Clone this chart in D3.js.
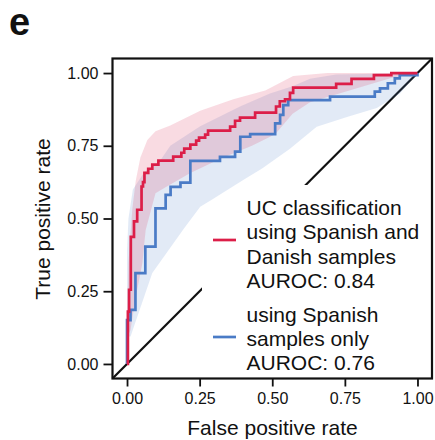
<!DOCTYPE html>
<html>
<head>
<meta charset="utf-8">
<script src="https://cdn.jsdelivr.net/npm/d3@7"></script>
<style>
  html, body { margin: 0; padding: 0; background: #fff; }
  svg { display: block; }
  text { font-family: "Liberation Sans", Arial, Helvetica, sans-serif; fill: #111; }
</style>
</head>
<body>
<svg id="chart" width="435" height="440"></svg>
<script>
// ---- data ----
const xTicks = [0, 0.25, 0.5, 0.75, 1];
const yTicks = [0, 0.25, 0.5, 0.75, 1];

// ROC of model trained with Spanish + Danish samples (step points: fpr, tpr)
const rocBothFpr = [0, 0.003, 0.007, 0.013, 0.024, 0.035, 0.05, 0.055, 0.06, 0.073, 0.087, 0.108, 0.159, 0.187, 0.197, 0.218, 0.238, 0.248, 0.269, 0.279, 0.355, 0.372, 0.389, 0.441, 0.513, 0.526, 0.544, 0.561, 0.572, 0.72, 0.773, 0.85, 0.91, 1.0];
const rocBothTpr = [0, 0.18, 0.255, 0.437, 0.49, 0.53, 0.61, 0.625, 0.657, 0.671, 0.685, 0.699, 0.713, 0.726, 0.74, 0.754, 0.768, 0.778, 0.788, 0.802, 0.816, 0.836, 0.847, 0.864, 0.885, 0.903, 0.91, 0.932, 0.95, 0.963, 0.98, 0.993, 1.0, 1.0];

// ROC of model trained with Spanish samples only
const rocSpainFpr = [0, 0, 0.012, 0.029, 0.063, 0.098, 0.133, 0.15, 0.184, 0.218, 0.32, 0.372, 0.39, 0.424, 0.51, 0.527, 0.538, 0.555, 0.699, 0.853, 0.871, 0.898, 0.922, 0.939, 1.0];
const rocSpainTpr = [0, 0.151, 0.186, 0.312, 0.403, 0.535, 0.581, 0.609, 0.623, 0.698, 0.712, 0.73, 0.781, 0.79, 0.827, 0.856, 0.89, 0.907, 0.919, 0.936, 0.947, 0.965, 0.982, 0.993, 1.0];

// confidence bands [fpr, tpr]
const bandBothUpper = [[0,0.12],[0.005,0.35],[0.013,0.46],[0.018,0.53],[0.03,0.63],[0.046,0.71],[0.07,0.77],[0.098,0.80],[0.149,0.82],[0.252,0.87],[0.366,0.91],[0.476,0.94],[0.572,0.99],[0.69,1.0],[1,1]];
const bandBothLower = [[0,0.09],[0.012,0.117],[0.03,0.23],[0.053,0.347],[0.064,0.46],[0.098,0.587],[0.137,0.61],[0.218,0.656],[0.321,0.705],[0.43,0.75],[0.51,0.79],[0.57,0.86],[0.63,0.9],[0.8,0.95],[0.915,0.985],[1,1]];
const bandSpainUpper = [[0,0.39],[0.005,0.5],[0.02,0.6],[0.06,0.66],[0.115,0.70],[0.149,0.75],[0.252,0.817],[0.389,0.885],[0.492,0.93],[0.57,0.955],[0.63,0.98],[0.72,0.995],[1,1]];
const bandSpainLower = [[0,0.094],[0.012,0.094],[0.087,0.313],[0.196,0.466],[0.252,0.54],[0.293,0.565],[0.4,0.632],[0.465,0.672],[0.561,0.74],[0.653,0.815],[0.76,0.85],[0.86,0.88],[0.94,0.93],[1,1]];

const legendBoth = ["UC classification", "using Spanish and", "Danish samples", "AUROC: 0.84"];
const legendSpain = ["using Spanish", "samples only", "AUROC: 0.76"];

// ---- drawing ----
const RED = "#dc1e48", BLUE = "#4a7bc6";
const svg = d3.select("#chart");
const x = d3.scaleLinear().domain([-0.05, 1.05]).range([112.5, 432]);
const y = d3.scaleLinear().domain([-0.05, 1.05]).range([378.5, 58.5]);

// chance diagonal
svg.append("line")
  .attr("x1", x(x.domain()[0])).attr("y1", y(y.domain()[0]))
  .attr("x2", x(x.domain()[1])).attr("y2", y(y.domain()[1]))
  .attr("stroke", "#111").attr("stroke-width", 2.2);

// legend background
svg.append("rect").attr("x", 202).attr("y", 185).attr("width", 229).attr("height", 192).attr("fill", "#fff");

const polyLine = d3.line().x(d => x(d[0])).y(d => y(d[1]));
function band(upper, lower, color) {
  const pts = lower.concat(upper.slice().reverse());
  svg.append("path").attr("d", polyLine(pts) + "Z").attr("fill", color).attr("fill-opacity", 0.16).attr("stroke", "none");
}
band(bandSpainUpper, bandSpainLower, BLUE);
band(bandBothUpper, bandBothLower, RED);

const step = d3.line().x(d => x(d[0])).y(d => y(d[1])).curve(d3.curveStepAfter);
svg.append("path").datum(rocSpainFpr.map((f, i) => [f, rocSpainTpr[i]]))
  .attr("d", step).attr("fill", "none").attr("stroke", BLUE).attr("stroke-width", 2.7);
svg.append("path").datum(rocBothFpr.map((f, i) => [f, rocBothTpr[i]]))
  .attr("d", step).attr("fill", "none").attr("stroke", RED).attr("stroke-width", 2.7);

// panel border
svg.append("rect").attr("x", x.range()[0]).attr("y", y.range()[1])
  .attr("width", x.range()[1] - x.range()[0]).attr("height", y.range()[0] - y.range()[1])
  .attr("fill", "none").attr("stroke", "#111").attr("stroke-width", 2.2);

// axes
const xAxis = svg.append("g").attr("transform", `translate(0,${y.range()[0]})`)
  .call(d3.axisBottom(x).tickValues(xTicks).tickFormat(d3.format(".2f")).tickSize(8).tickPadding(6));
const yAxis = svg.append("g").attr("transform", `translate(${x.range()[0]},0)`)
  .call(d3.axisLeft(y).tickValues(yTicks).tickFormat(d3.format(".2f")).tickSize(9).tickPadding(5));
[xAxis, yAxis].forEach(g => {
  g.select(".domain").remove();
  g.selectAll(".tick line").attr("stroke", "#111").attr("stroke-width", 1.8);
  g.selectAll(".tick text").attr("font-size", 16).attr("fill", "#111")
    .style("font-family", '"Liberation Sans", Arial, Helvetica, sans-serif');
});

// axis titles
svg.append("text").attr("x", 272.5).attr("y", 435).attr("text-anchor", "middle").attr("font-size", 21).text("False positive rate");
svg.append("text").attr("transform", "translate(50,219) rotate(-90)").attr("text-anchor", "middle").attr("font-size", 21).text("True positive rate");

// panel letter
svg.append("text").attr("x", 9).attr("y", 35).attr("font-size", 38).attr("font-weight", "bold").text("e");

// legend
const lg = svg.append("g");
lg.append("line").attr("x1", 213).attr("x2", 236).attr("y1", 240).attr("y2", 240).attr("stroke", RED).attr("stroke-width", 2.7);
lg.append("line").attr("x1", 213).attr("x2", 236).attr("y1", 337).attr("y2", 337).attr("stroke", BLUE).attr("stroke-width", 2.7);
legendBoth.forEach((t, i) => lg.append("text").attr("x", 246.5).attr("y", 214.7 + i * 24.5).attr("font-size", 21).text(t));
legendSpain.forEach((t, i) => lg.append("text").attr("x", 246.5).attr("y", 321.5 + i * 24.2).attr("font-size", 21).text(t));
</script>
</body>
</html>
